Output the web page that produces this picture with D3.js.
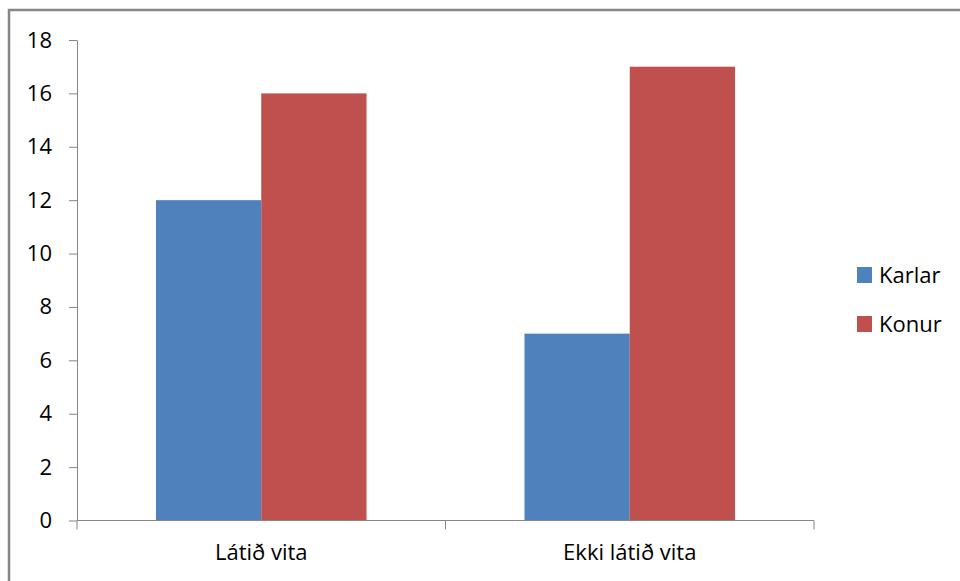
<!DOCTYPE html>
<html><head><meta charset="utf-8">
<script src="https://cdn.jsdelivr.net/npm/d3@7"></script>
<style>body{margin:0;background:#fff}svg{display:block}</style>
</head><body>
<script>
const categories = ["Látið vita", "Ekki látið vita"];
const seriesNames = ["Karlar", "Konur"];
const karlar = [12, 7];
const konur = [16, 17];
const yTicks = [0, 2, 4, 6, 8, 10, 12, 14, 16, 18];
const colors = ["#4F81BD", "#C0504D"];

const W = 960, H = 581;
const font = "'Open Sans', sans-serif";
const fs = 22;
const svg = d3.select("body").append("svg").attr("width", W).attr("height", H);

svg.append("rect").attr("x", 9).attr("y", 10).attr("width", 1000).attr("height", 1000)
  .attr("fill", "#fff").attr("stroke", "#878787").attr("stroke-width", 2.5);

const x0 = 77, x1 = 814, yTop = 40, yBot = 520.5;
const y = d3.scaleLinear().domain([0, 18]).range([yBot, yTop]);
const xc = d3.scaleBand().domain(categories).range([x0, x1]).padding(0);
const bw = xc.bandwidth();
const gap = bw * 1.5 / 3.5;
const xs = d3.scaleBand().domain(seriesNames).range([gap / 2, bw - gap / 2]).padding(0);

const values = [karlar, konur];
const g = svg.append("g");
seriesNames.forEach((s, si) => {
  g.selectAll(null).data(categories).enter().append("rect")
    .attr("x", c => xc(c) + xs(s))
    .attr("width", xs.bandwidth())
    .attr("y", (c, i) => y(values[si][i]))
    .attr("height", (c, i) => yBot - y(values[si][i]))
    .attr("fill", colors[si]);
});

// y axis
const ya = svg.append("g").attr("transform", `translate(${x0},0)`)
  .call(d3.axisLeft(y).tickValues(yTicks).tickSize(8).tickSizeOuter(0).tickPadding(17));
ya.select(".domain").attr("stroke", "#868686");
ya.selectAll(".tick line").attr("stroke", "#868686");
ya.selectAll("text").attr("font-family", font).attr("font-size", fs).attr("fill", "#000");

// x axis
const xa = svg.append("g").attr("transform", `translate(0,${yBot})`)
  .call(d3.axisBottom(xc).tickSize(0).tickPadding(24));
xa.select(".domain").attr("stroke", "#868686").attr("d", `M${x0},0H${x1}`);
xa.selectAll("text").attr("font-family", font).attr("font-size", fs).attr("fill", "#000");
// category boundary ticks
const bounds = [x0].concat(categories.map(c => xc(c) + bw));
svg.append("g").selectAll("line").data(bounds).enter().append("line")
  .attr("x1", d => d).attr("x2", d => d).attr("y1", yBot).attr("y2", yBot + 9)
  .attr("stroke", "#868686");

// legend
const lg = svg.append("g");
seriesNames.forEach((s, i) => {
  const cy = 275 + i * 49;
  lg.append("rect").attr("x", 857).attr("y", cy - 8).attr("width", 15).attr("height", 16).attr("fill", colors[i]);
  lg.append("text").attr("x", 879).attr("y", cy).attr("dy", "0.35em")
    .attr("font-family", font).attr("font-size", fs).attr("fill", "#000").text(s);
});
</script>
</body></html>
